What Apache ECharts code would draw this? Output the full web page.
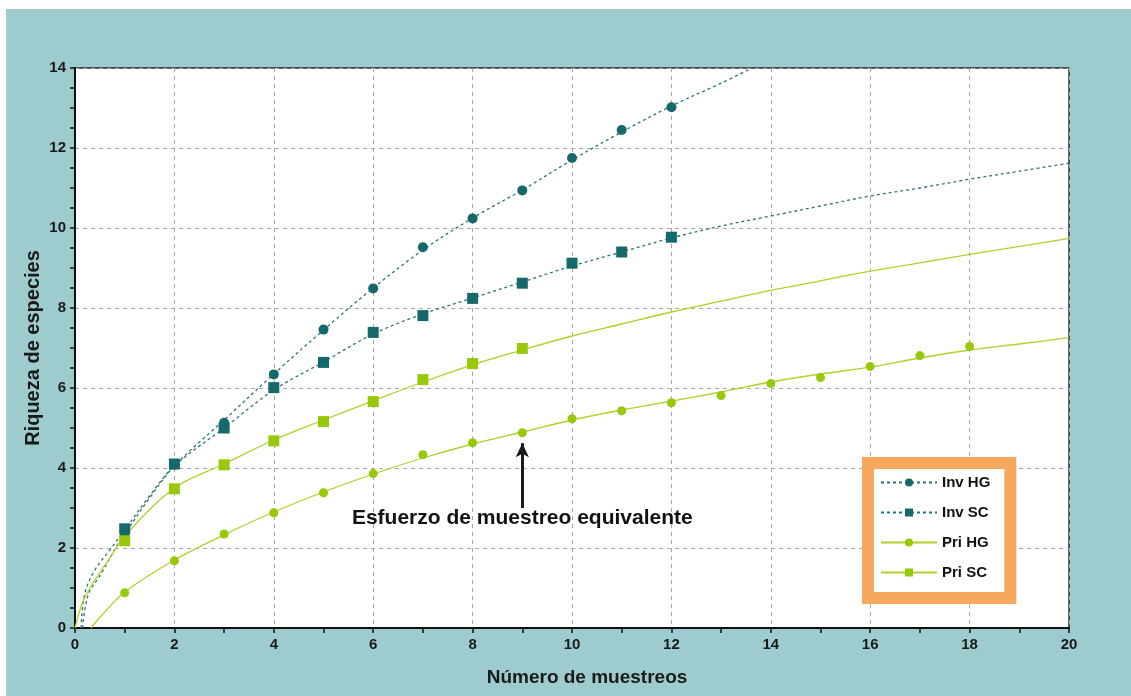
<!DOCTYPE html>
<html>
<head>
<meta charset="utf-8">
<title>Riqueza de especies</title>
<script src="https://cdn.jsdelivr.net/npm/echarts@6/dist/echarts.min.js"></script>
<style>
  html, body { margin: 0; padding: 0; background: #ffffff; }
  #wrap { position: relative; width: 1131px; height: 696px; background: #ffffff; overflow: hidden; }
  #panel { position: absolute; left: 6px; top: 9px; right: 0; bottom: 0; background: #9dcbce; }
  #chart { position: absolute; left: 0; top: 0; width: 1131px; height: 696px; }
</style>
</head>
<body>
<div id="wrap">
  <div id="panel"></div>
  <div id="chart"></div>
</div>
<script>
// Observed samples (x = 1, 2, 3, ...)
const invHg = [2.3, 4.08, 5.13, 6.34, 7.46, 8.49, 9.52, 10.24, 10.94, 11.75, 12.45, 13.02];
const invSc = [2.48, 4.1, 5.0, 6.01, 6.64, 7.39, 7.81, 8.24, 8.62, 9.12, 9.4, 9.77];
const priHg = [0.88, 1.68, 2.35, 2.88, 3.38, 3.86, 4.33, 4.63, 4.88, 5.23, 5.43, 5.63, 5.81, 6.11, 6.26, 6.54, 6.81, 7.04];
const priSc = [2.18, 3.48, 4.08, 4.68, 5.16, 5.66, 6.21, 6.61, 6.99];

// Fitted accumulation curves (x positions and richness values)
const invHgCurveX = [0.15, 0.27, 0.5, 0.84, 1, 1.5, 2, 3, 4, 5, 6, 7, 8, 9, 10, 11, 12, 13, 13.62];
const invHgCurveY = [0, 0.85, 1.3, 2.05, 2.35, 3.25, 4.05, 5.2, 6.35, 7.45, 8.5, 9.45, 10.25, 10.95, 11.7, 12.4, 13.05, 13.62, 14];
const invScCurveX = [0.12, 0.2, 0.4, 0.7, 1, 1.5, 2, 3, 4, 5, 6, 7, 8, 9, 10, 11, 12, 13, 14, 15, 16, 17, 18, 19, 20];
const invScCurveY = [0, 0.88, 1.45, 1.95, 2.45, 3.3, 4.05, 5.0, 5.95, 6.65, 7.35, 7.85, 8.25, 8.65, 9.05, 9.4, 9.75, 10.05, 10.3, 10.55, 10.8, 11.0, 11.22, 11.42, 11.62];
const priHgCurveX = [0.32, 0.6, 1, 2, 3, 4, 5, 6, 7, 8, 9, 10, 11, 12, 13, 14, 15, 16, 17, 18, 19, 20];
const priHgCurveY = [0, 0.4, 0.9, 1.7, 2.33, 2.9, 3.4, 3.85, 4.25, 4.6, 4.9, 5.2, 5.45, 5.67, 5.9, 6.15, 6.35, 6.52, 6.75, 6.95, 7.1, 7.26];
const priScCurveX = [0, 0.14, 0.3, 0.7, 1, 2, 3, 4, 5, 6, 7, 8, 9, 10, 11, 12, 13, 14, 15, 16, 17, 18, 19, 20];
const priScCurveY = [0, 0.6, 1.0, 1.75, 2.3, 3.5, 4.1, 4.7, 5.2, 5.68, 6.15, 6.58, 6.95, 7.3, 7.6, 7.9, 8.17, 8.44, 8.68, 8.92, 9.13, 9.34, 9.54, 9.74];

const seriesNames = ['Inv HG', 'Inv SC', 'Pri HG', 'Pri SC'];
const xTicks = ['0', '2', '4', '6', '8', '10', '12', '14', '16', '18', '20'];
const yTicks = ['0', '2', '4', '6', '8', '10', '12', '14'];

const annotationText = 'Esfuerzo de muestreo equivalente';
const arrowX = 9;
const arrowFromY = 3.0;
const arrowToY = 4.62;
const annotationY = 2.75;

const DARK = '#15696b';
const DARK_LINE = '#2b7476';
const GREEN = '#97c80a';
const GREEN_LINE = '#b2d027';
const FONT = 'Liberation Sans, Arial, sans-serif';

function pairs(xs, ys) { return xs.map((x, i) => [x, ys[i]]); }
function samples(ys) { return ys.map((y, i) => [i + 1, y]); }

const chart = echarts.init(document.getElementById('chart'));

function curve(name, xs, ys, color, dashed, symbol) {
  return {
    name: name,
    type: 'line',
    data: pairs(xs, ys),
    smooth: 0.35,
    showSymbol: false,
    symbol: symbol,
    symbolSize: 8,
    itemStyle: { color: dashed ? DARK : GREEN },
    lineStyle: { color: color, width: 1.3, type: dashed ? [3, 3] : 'solid' },
    silent: true,
    z: 2
  };
}

function markers(name, ys, color, symbol, size) {
  return {
    name: name,
    type: 'scatter',
    data: samples(ys),
    symbol: symbol,
    symbolSize: size,
    itemStyle: { color: color, opacity: 1 },
    z: 3
  };
}

const priHgMarkers = markers('Pri HG', priHg, GREEN, 'circle', 9);
priHgMarkers.markLine = {
  silent: true,
  symbol: ['none', 'arrow'],
  symbolSize: [10, 14],
  label: { show: false },
  lineStyle: { color: '#1a1a1a', width: 3, type: 'solid' },
  data: [[{ coord: [arrowX, arrowFromY] }, { coord: [arrowX, arrowToY] }]]
};
priHgMarkers.markPoint = {
  silent: true,
  symbol: 'circle',
  symbolSize: 0,
  label: {
    show: true,
    position: 'inside',
    formatter: annotationText,
    color: '#111',
    fontFamily: FONT,
    fontWeight: 'bold',
    fontSize: 21
  },
  data: [{ coord: [arrowX, annotationY] }]
};

const option = {
  backgroundColor: 'transparent',
  animation: false,
  grid: {
    left: 75, right: 62, top: 68, bottom: 68,
    show: true,
    backgroundColor: '#ffffff',
    borderColor: '#2a2a2a',
    borderWidth: 1.5
  },
  legend: {
    orient: 'vertical',
    left: 868,
    top: 463,
    padding: [12, 20, 18, 12],
    itemWidth: 56,
    itemHeight: 10,
    itemGap: 15,
    backgroundColor: '#ffffff',
    borderColor: '#f5a85e',
    borderWidth: 12,
    borderRadius: 0,
    data: seriesNames,
    textStyle: {
      color: '#111',
      fontFamily: FONT,
      fontWeight: 'bold',
      fontSize: 15
    }
  },
  xAxis: {
    type: 'value',
    min: 0, max: 20, interval: 2,
    name: 'Número de muestreos',
    nameLocation: 'middle',
    nameGap: 40,
    nameMoveOverlap: false,
    nameTextStyle: {
      color: '#1a1a1a',
      fontFamily: FONT,
      fontWeight: 'bold',
      fontSize: 19,
      padding: [0, 0, 0, 30]
    },
    axisLine: { show: true, onZero: false, lineStyle: { color: '#111', width: 2 } },
    axisTick: { show: true, length: 5, lineStyle: { color: '#111', width: 1.5 } },
    minorTick: { show: true, splitNumber: 2, length: 5, lineStyle: { color: '#111', width: 1.5 } },
    axisLabel: {
      color: '#1a1a1a', margin: 9,
      fontFamily: FONT,
      fontWeight: 'bold', fontSize: 15,
      formatter: (v) => xTicks[Math.round(v / 2)]
    },
    splitLine: { show: true, lineStyle: { color: '#a8a8a8', type: [4, 4], width: 1 } }
  },
  yAxis: {
    type: 'value',
    min: 0, max: 14, interval: 2,
    name: 'Riqueza de especies',
    nameLocation: 'middle',
    nameGap: 32,
    nameMoveOverlap: false,
    nameTextStyle: {
      color: '#1a1a1a',
      fontFamily: FONT,
      fontWeight: 'bold',
      fontSize: 20
    },
    axisLine: { show: true, onZero: false, lineStyle: { color: '#111', width: 2 } },
    axisTick: { show: true, length: 5, lineStyle: { color: '#111', width: 1.5 } },
    minorTick: { show: true, splitNumber: 4, length: 5, lineStyle: { color: '#111', width: 1.5 } },
    axisLabel: {
      color: '#1a1a1a', margin: 9,
      fontFamily: FONT,
      fontWeight: 'bold', fontSize: 15,
      formatter: (v) => yTicks[Math.round(v / 2)]
    },
    splitLine: { show: true, lineStyle: { color: '#a8a8a8', type: [4, 4], width: 1 } }
  },
  series: [
    curve('Inv HG', invHgCurveX, invHgCurveY, DARK_LINE, true, 'circle'),
    curve('Inv SC', invScCurveX, invScCurveY, DARK_LINE, true, 'rect'),
    curve('Pri HG', priHgCurveX, priHgCurveY, GREEN_LINE, false, 'circle'),
    curve('Pri SC', priScCurveX, priScCurveY, GREEN_LINE, false, 'rect'),
    markers('Inv HG', invHg, DARK, 'circle', 10),
    markers('Inv SC', invSc, DARK, 'rect', 11),
    priHgMarkers,
    markers('Pri SC', priSc, GREEN, 'rect', 11)
  ]
};

chart.setOption(option);
</script>
</body>
</html>
